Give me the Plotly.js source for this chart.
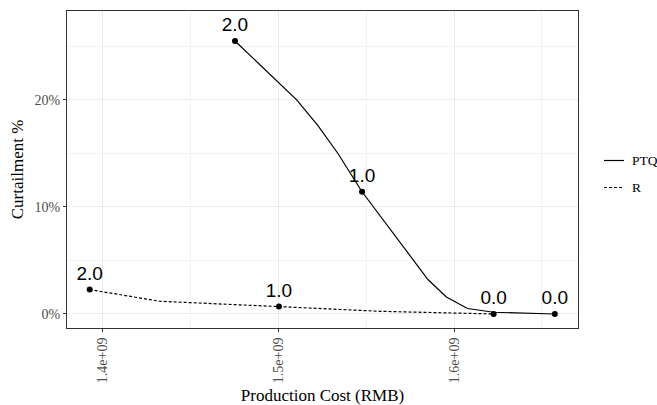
<!DOCTYPE html>
<html>
<head>
<meta charset="utf-8">
<script src="https://cdn.plot.ly/plotly-3.0.1.min.js"></script>
<style>html,body{margin:0;padding:0;background:#fff;}#chart{width:657px;height:405px;}</style>
</head>
<body>
<div id="chart"></div>
<script>
// PTQ series (production cost in RMB, curtailment as fraction)
const ptqCost  = [1.4753e9, 1.4878e9, 1.4990e9, 1.5104e9, 1.5224e9, 1.5338e9, 1.5476e9, 1.5851e9, 1.5956e9, 1.6076e9, 1.6225e9, 1.6573e9];
const ptqCurt  = [0.2551, 0.2354, 0.2184, 0.2001, 0.1762, 0.1502, 0.1142, 0.0322, 0.0159, 0.0051, 0.0016, 0.0];
const ptqLabel = ['2.0', '', '', '', '', '', '1.0', '', '', '', '', '0.0'];
// R series
const rCost  = [1.3926e9, 1.4324e9, 1.5003e9, 1.5577e9, 1.6225e9];
const rCurt  = [0.0228, 0.0119, 0.0069, 0.0025, 0.0];
const rLabel = ['2.0', '', '1.0', '', '0.0'];
// axis ticks
const xTickVals = [1.4e9, 1.5e9, 1.6e9];
const xTickText = ['1.4e+09', '1.5e+09', '1.6e+09'];
const yTickVals = [0, 0.1, 0.2];
// legend entries
const seriesNames = ['PTQ', 'R'];

function pick(arr, labels) { return arr.filter((_, i) => labels[i] !== ''); }

const serif = 'Liberation Serif, Times New Roman, serif';
const sans = 'Liberation Sans, Arial, sans-serif';
const dashR = '3px,2px';

const traces = [
  {x: ptqCost, y: ptqCurt, mode: 'lines', name: seriesNames[0], showlegend: false,
   line: {color: '#000', width: 1.2}, hoverinfo: 'skip'},
  {x: rCost, y: rCurt, mode: 'lines', name: seriesNames[1], showlegend: false,
   line: {color: '#000', width: 1.2, dash: dashR}, hoverinfo: 'skip'},
  {x: pick(ptqCost, ptqLabel), y: pick(ptqCurt, ptqLabel), text: pick(ptqLabel, ptqLabel),
   mode: 'markers+text', textposition: 'top center', showlegend: false,
   marker: {color: '#000', size: 6}, textfont: {family: sans, size: 19, color: '#000'}},
  {x: pick(rCost, rLabel), y: pick(rCurt, rLabel), text: pick(rLabel, rLabel),
   mode: 'markers+text', textposition: 'top center', showlegend: false,
   marker: {color: '#000', size: 6}, textfont: {family: sans, size: 19, color: '#000'}}
];

// custom legend (paper coordinates, outside the panel on the right)
const plotL = 67, plotR = 578, plotT = 11, plotB = 328;
const px2x = p => (p - plotL) / (plotR - plotL);
const py2y = p => (plotB - p) / (plotB - plotT);
const legendRows = [160.5, 187.5];
const legendShapes = seriesNames.map((n, i) => ({
  type: 'line', xref: 'paper', yref: 'paper',
  x0: px2x(604), x1: px2x(624), y0: py2y(legendRows[i]), y1: py2y(legendRows[i]),
  line: {color: '#000', width: 1.2, dash: i === 0 ? 'solid' : dashR}
}));
const legendText = seriesNames.map((n, i) => ({
  text: n, xref: 'paper', yref: 'paper', x: px2x(630), y: py2y(legendRows[i]),
  xanchor: 'left', yanchor: 'middle', showarrow: false,
  font: {family: serif, size: 13.5, color: '#000'}
}));

const layout = {
  width: 657, height: 405,
  margin: {l: plotL, r: 657 - plotR, t: plotT, b: 405 - plotB},
  paper_bgcolor: '#fff', plot_bgcolor: '#fff',
  showlegend: false,
  shapes: legendShapes,
  annotations: legendText,
  xaxis: {
    range: [1.3797e9, 1.6705e9],
    tickvals: xTickVals, ticktext: xTickText, tickangle: -90,
    tickfont: {family: serif, size: 14, color: '#4d4d4d'},
    ticks: 'outside', ticklen: 3, tickcolor: '#333333',
    showgrid: true, gridcolor: '#ebebeb', gridwidth: 1,
    minor: {dtick: 0.5e8, tick0: 1.4e9, showgrid: true, gridcolor: '#f2f2f2', gridwidth: 1},
    zeroline: false, showline: true, mirror: true, linecolor: '#333333', linewidth: 1,
    title: {text: 'Production Cost (RMB)', font: {family: serif, size: 17, color: '#000'}, standoff: 6}
  },
  yaxis: {
    range: [-0.0131, 0.2831],
    tickvals: yTickVals, tickformat: '.0%',
    tickfont: {family: serif, size: 14, color: '#4d4d4d'},
    ticks: 'outside', ticklen: 3, tickcolor: '#333333',
    showgrid: true, gridcolor: '#ebebeb', gridwidth: 1,
    minor: {dtick: 0.05, tick0: 0, showgrid: true, gridcolor: '#f2f2f2', gridwidth: 1},
    zeroline: false, showline: true, mirror: true, linecolor: '#333333', linewidth: 1,
    title: {text: 'Curtailment %', font: {family: serif, size: 17, color: '#000'}, standoff: 6}
  }
};

Plotly.newPlot('chart', traces, layout, {displayModeBar: false, staticPlot: true});
</script>
</body>
</html>
